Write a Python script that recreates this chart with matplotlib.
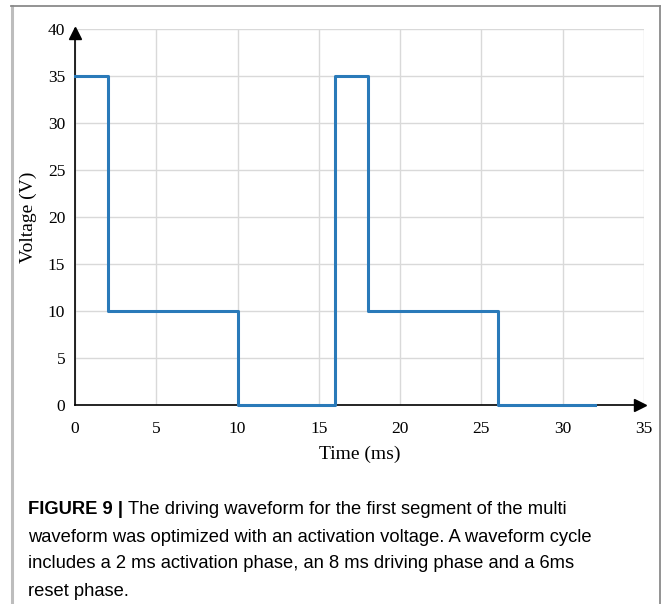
import matplotlib

matplotlib.use("Agg")
import matplotlib.pyplot as plt
from matplotlib.lines import Line2D
from matplotlib.transforms import offset_copy

# waveform corner points (ms, V)
time_ms = [0, 2, 2, 10, 10, 16, 16, 18, 18, 26, 26, 32]
volts = [35, 35, 10, 10, 0, 0, 35, 35, 10, 10, 0, 0]
x_ticks = [0, 5, 10, 15, 20, 25, 30, 35]
y_ticks = [0, 5, 10, 15, 20, 25, 30, 35, 40]

caption_head = "FIGURE 9 |"
caption_lines = [
    "The driving waveform for the first segment of the multi",
    "waveform was optimized with an activation voltage. A waveform cycle",
    "includes a 2 ms activation phase, an 8 ms driving phase and a 6ms",
    "reset phase.",
]

W, H = 667, 604
fig = plt.figure(figsize=(W / 100, H / 100), dpi=100)
fig.patch.set_facecolor("white")

# outer frame (open at the bottom)
fig.add_artist(Line2D([11.5 / W, 11.5 / W], [0, 1 - 6 / H], color="#bdbdbd", lw=2.2))
fig.add_artist(Line2D([11 / W, 660 / W], [1 - 6 / H, 1 - 6 / H], color="#8a8a8a", lw=1.3))
fig.add_artist(Line2D([660 / W, 660 / W], [0, 1 - 6 / H], color="#8a8a8a", lw=1.3))

ax = fig.add_axes([75 / W, 1 - 405 / H, (644 - 75) / W, (405 - 29) / H])
ax.set_xlim(0, 35)
ax.set_ylim(0, 40)
ax.set_xticks(x_ticks)
ax.set_yticks(y_ticks)
ax.grid(True, color="#d9d9d9", lw=1.0)
ax.set_axisbelow(True)
for s in ["top", "right"]:
    ax.spines[s].set_visible(False)
for s in ["left", "bottom"]:
    ax.spines[s].set_color("black")
    ax.spines[s].set_linewidth(1.2)
    ax.spines[s].set_zorder(3)
ax.tick_params(length=0, labelsize=12.5)
ax.tick_params(axis="x", pad=11.5)
ax.tick_params(axis="y", pad=7)
for lab in ax.get_xticklabels() + ax.get_yticklabels():
    lab.set_fontfamily("Liberation Serif")

ax.step(time_ms, volts, where="post", color="#2a7ab9", lw=2.2, zorder=4, clip_on=False)

# arrowheads on the axes, tips sitting at the axis ends
tx = offset_copy(ax.transAxes, fig=fig, x=-3, y=0, units="points")
ty = offset_copy(ax.transAxes, fig=fig, x=0, y=-3, units="points")
ax.plot(1, 0, ">", color="black", ms=9, transform=tx, clip_on=False, zorder=5)
ax.plot(0, 1, "^", color="black", ms=9, transform=ty, clip_on=False, zorder=5)

fig.text(360 / W, 1 - 454 / H, "Time (ms)", fontfamily="Liberation Serif", fontsize=14,
         ha="center", va="center")
fig.text(28 / W, 1 - 217 / H, "Voltage (V)", fontfamily="Liberation Serif", fontsize=14,
         ha="center", va="center", rotation=90)

# caption
fs = 13.2
y0 = 1 - 510 / H
step = 27 / H
head = fig.text(28 / W, y0, caption_head, fontfamily="Liberation Sans", fontweight="bold",
                fontsize=fs, va="center", ha="left")
fig.canvas.draw()
bb = head.get_window_extent()
fig.text((bb.x1 + 5) / W, y0, caption_lines[0], fontfamily="Liberation Sans",
         fontsize=fs, va="center", ha="left")
for i, line in enumerate(caption_lines[1:], start=1):
    fig.text(28 / W, y0 - i * step, line, fontfamily="Liberation Sans",
             fontsize=fs, va="center", ha="left")

fig.savefig("out.png", dpi=100)
